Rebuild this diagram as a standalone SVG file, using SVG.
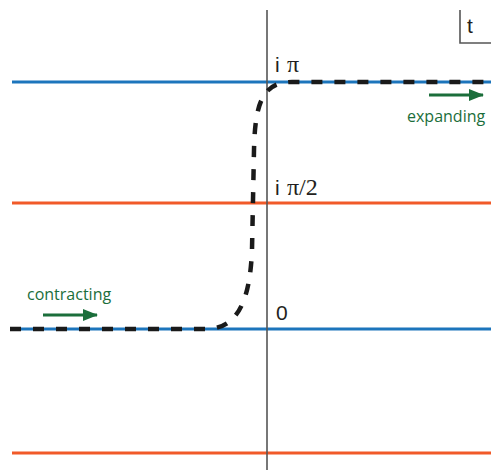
<svg xmlns="http://www.w3.org/2000/svg" width="491" height="470" viewBox="0 0 491 470">
<style>
.blue{stroke:#1c75bc;stroke-width:3;fill:none}
.orange{stroke:#f15a29;stroke-width:3;fill:none}
.axis{stroke:#555;stroke-width:1.6;fill:none}
.curve{stroke:#1a1a1a;stroke-width:4.5;fill:none;stroke-dasharray:11 12}
.lbl{font-family:"Liberation Sans","DejaVu Sans",sans-serif;font-size:21px;fill:#231f20}
.ser{font-family:"Liberation Serif","DejaVu Serif",serif;font-size:24px}
.grn{font-family:"Open Sans","Liberation Sans",sans-serif;font-size:16px;fill:#1b6e3b}
.arr{stroke:#1b6e3b;stroke-width:3;fill:none}
</style>
<defs>
<marker id="ah" markerWidth="15" markerHeight="12" refX="14" refY="6" orient="auto" markerUnits="userSpaceOnUse" viewBox="0 0 15 12">
<path d="M0,0 L15,6 L0,12 Z" fill="#1b6e3b"/>
</marker>
</defs>
<g id="lines">
<line class="blue" x1="12" y1="82" x2="491" y2="82"/>
<line class="orange" x1="12" y1="203" x2="491" y2="203"/>
<line class="blue" x1="10" y1="329" x2="491" y2="329"/>
<line class="orange" x1="12" y1="453" x2="491" y2="453"/>
<line class="axis" x1="267" y1="10" x2="267" y2="470"/>
</g>
<g id="tbox">
<polyline class="axis" points="460,10 460,43 491,43" stroke="#231f20"/>
<text class="lbl" x="467" y="33" font-size="22">t</text>
</g>
<g id="labels">
<text class="lbl" x="275" y="72">i <tspan class="ser" x="287">π</tspan></text>
<text class="lbl" x="275" y="195">i <tspan class="ser" x="287">π/2</tspan></text>
<text class="lbl" x="276" y="320">0</text>
</g>
<g id="connectors">
<path class="curve" d="M10,329 L206,329 C238,329 250,300 252,250 L254,150 C255,104 262,82 292,82 L491,82"/>
</g>
<g id="contracting">
<text class="grn" x="27" y="300">contracting</text>
<line class="arr" x1="43" y1="315" x2="97" y2="315" marker-end="url(#ah)"/>
</g>
<g id="expanding">
<text class="grn" x="407" y="122">expanding</text>
<line class="arr" x1="429" y1="95" x2="483" y2="95" marker-end="url(#ah)"/>
</g>
</svg>
